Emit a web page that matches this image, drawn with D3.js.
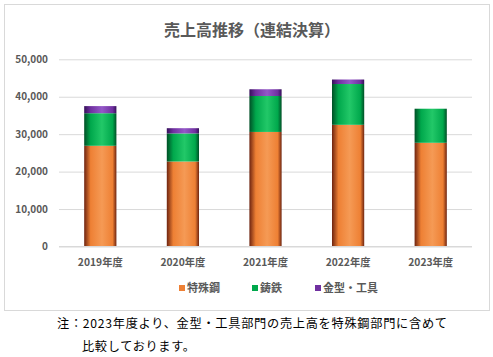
<!DOCTYPE html>
<html><head><meta charset="utf-8">
<script src="https://cdn.jsdelivr.net/npm/d3@7"></script>
<style>body{margin:0;background:#fff;}svg{display:block;}</style>
</head><body>
<svg id="c" width="493" height="357"></svg>
<script>
const categories = ["2019年度","2020年度","2021年度","2022年度","2023年度"];
const seriesNames = ["特殊鋼","鋳鉄","金型・工具"];
const specialSteel = [26900, 22700, 30600, 32500, 27700];
const castIron = [8700, 7500, 9600, 10900, 9100];
const moldTools = [1900, 1400, 1800, 1200, 0];
const yTicks = [0, 10000, 20000, 30000, 40000, 50000];
const colors = [
  {dark:"#6e2410", mid:"#ee8034", light:"#f59a55", name:"o"},
  {dark:"#004f26", mid:"#00a84c", light:"#22c868", name:"g"},
  {dark:"#35105a", mid:"#7030a0", light:"#9458c8", name:"p"}
];
const svg = d3.select("#c");
const defs = svg.append("defs");
colors.forEach(c=>{
  const g = defs.append("linearGradient").attr("id","grad-"+c.name).attr("x1","0").attr("x2","1").attr("y1","0").attr("y2","0");
  g.append("stop").attr("offset","0").attr("stop-color",c.dark);
  g.append("stop").attr("offset","0.2").attr("stop-color",c.mid);
  g.append("stop").attr("offset","0.55").attr("stop-color",c.light);
  g.append("stop").attr("offset","0.88").attr("stop-color",c.mid);
  g.append("stop").attr("offset","1").attr("stop-color",c.dark);
});
svg.append("rect").attr("x",4.5).attr("y",4.5).attr("width",485).attr("height",306)
  .attr("fill","#fff").attr("stroke","#d9d9d9");
svg.append("text").attr("x",252).attr("y",36).attr("text-anchor","middle")
  .attr("font-family","'Noto Sans CJK JP'").attr("font-size",16).attr("font-weight","bold")
  .attr("fill","#595959").text("売上高推移（連結決算）");
const x = d3.scaleBand().domain(categories).range([59,472]).paddingInner(0.61).paddingOuter(0.305);
const y = d3.scaleLinear().domain([0,50000]).range([246.5,59.3]);
const yAxis = svg.append("g").attr("transform","translate(59,0)")
  .call(d3.axisLeft(y).tickValues(yTicks).tickFormat(d3.format(",")).tickSize(-413).tickPadding(11));
yAxis.select(".domain").remove();
yAxis.selectAll("line").attr("stroke","#d9d9d9");
yAxis.selectAll("text").attr("font-family","'Noto Sans CJK JP'").attr("font-size",10).attr("font-weight","bold").attr("fill","#595959");
const data = categories.map((c,i)=>({cat:c, s0:specialSteel[i], s1:castIron[i], s2:moldTools[i]}));
const stacked = d3.stack().keys(["s0","s1","s2"])(data);
stacked.forEach((layer,li)=>{
  svg.append("g").selectAll("rect").data(layer).join("rect")
    .attr("x",d=>x(d.data.cat)).attr("width",x.bandwidth())
    .attr("y",d=>y(d[1])).attr("height",d=>y(d[0])-y(d[1]))
    .attr("fill","url(#grad-"+colors[li].name+")");
});
svg.append("line").attr("x1",59).attr("x2",472).attr("y1",y(0)).attr("y2",y(0)).attr("stroke","#d9d9d9");
const xAxis = svg.append("g").attr("transform","translate(0,"+y(0)+")")
  .call(d3.axisBottom(x).tickSize(0).tickPadding(12));
xAxis.select(".domain").remove();
xAxis.selectAll("text").attr("font-family","'Noto Sans CJK JP'").attr("font-size",10.3).attr("font-weight","bold").attr("fill","#595959");
const legX = [179, 252, 315];
const lg = svg.append("g");
seriesNames.forEach((n,i)=>{
  lg.append("rect").attr("x",legX[i]).attr("y",285).attr("width",6).attr("height",6).attr("fill",colors[i].mid);
  lg.append("text").attr("x",legX[i]+8).attr("y",292).attr("font-family","'Noto Sans CJK JP'")
    .attr("font-size",11).attr("font-weight","bold").attr("fill","#595959").text(n);
});
svg.append("text").attr("x",57).attr("y",328).attr("font-family","'Noto Sans CJK JP'").attr("font-size",12.2)
  .attr("fill","#000").attr("textLength",390).text("注：2023年度より、金型・工具部門の売上高を特殊鋼部門に含めて");
svg.append("text").attr("x",82).attr("y",351).attr("font-family","'Noto Sans CJK JP'").attr("font-size",12.2)
  .attr("fill","#000").attr("textLength",113).text("比較しております。");
</script>
</body></html>
